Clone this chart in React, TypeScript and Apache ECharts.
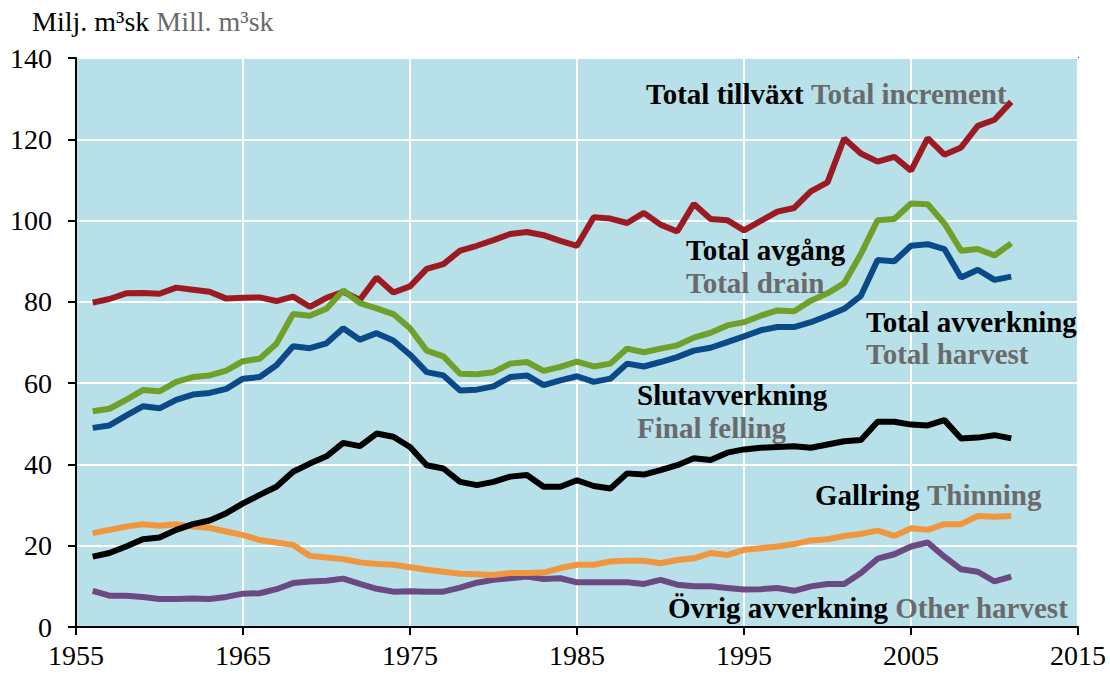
import React, { useEffect, useRef } from "react";
import * as echarts from "echarts";

const years: number[] = [];
for (let y = 1956; y <= 2011; y++) years.push(y);

const totalTillvaxt = [
  79.8, 80.7, 82.1, 82.2, 82.0, 83.5, 83.0, 82.5, 80.8, 81.0,
  81.1, 80.2, 81.3, 78.8, 81.0, 82.5, 80.5, 86.0, 82.3, 83.8,
  88.1, 89.3, 92.6, 93.8, 95.2, 96.7, 97.2, 96.4, 95.0, 93.8,
  100.8, 100.5, 99.4, 101.9, 99.0, 97.3, 104.1, 100.4, 100.1, 97.6,
  99.9, 102.2, 103.1, 107.2, 109.4, 120.2, 116.5, 114.5, 115.7, 112.3,
  120.3, 116.2, 118.0, 123.3, 124.8, 129.2,
];

const totalAvgang = [
  53.1, 53.7, 55.9, 58.3, 58.0, 60.3, 61.5, 61.9, 63.1, 65.4,
  66.0, 69.7, 77.0, 76.6, 78.3, 82.8, 79.7, 78.4, 77.0, 73.5,
  68.0, 66.6, 62.3, 62.2, 62.7, 64.8, 65.2, 63.0, 64.0, 65.3,
  64.1, 64.8, 68.5, 67.6, 68.5, 69.3, 71.2, 72.4, 74.2, 75.0,
  76.6, 77.9, 77.7, 80.3, 82.1, 84.6, 91.8, 100.1, 100.4, 104.2,
  104.0, 99.3, 92.6, 93.0, 91.4, 94.4,
];

const totalAvverkning = [
  49.0, 49.6, 52.0, 54.3, 53.8, 55.9, 57.2, 57.6, 58.6, 61.1,
  61.5, 64.4, 69.1, 68.6, 69.8, 73.5, 70.7, 72.3, 70.5, 67.0,
  62.7, 61.9, 58.2, 58.4, 59.2, 61.5, 61.9, 59.5, 60.7, 61.7,
  60.3, 61.1, 64.8, 64.1, 65.2, 66.4, 68.0, 68.7, 70.1, 71.5,
  73.0, 73.8, 73.8, 75.0, 76.6, 78.3, 81.5, 90.3, 90.0, 93.8,
  94.2, 93.0, 86.0, 87.9, 85.4, 86.2,
];

const slutavverkning = [
  17.3, 18.2, 19.8, 21.6, 22.0, 23.9, 25.3, 26.2, 28.0, 30.4,
  32.5, 34.5, 38.2, 40.2, 42.0, 45.3, 44.5, 47.6, 46.8, 44.3,
  39.8, 39.0, 35.7, 34.9, 35.7, 37.0, 37.4, 34.5, 34.5, 36.1,
  34.7, 34.1, 37.8, 37.5, 38.6, 39.8, 41.5, 41.1, 42.9, 43.7,
  44.1, 44.3, 44.5, 44.1, 44.9, 45.7, 46.0, 50.5, 50.5, 49.8,
  49.6, 50.9, 46.4, 46.6, 47.2, 46.4,
];

const gallring = [
  23.1, 23.9, 24.7, 25.3, 24.9, 25.3, 24.7, 24.4, 23.5, 22.6,
  21.4, 20.8, 20.2, 17.5, 17.1, 16.7, 15.9, 15.5, 15.3, 14.7,
  14.1, 13.6, 13.1, 13.0, 12.8, 13.3, 13.3, 13.4, 14.5, 15.3,
  15.3, 16.1, 16.3, 16.3, 15.7, 16.5, 16.9, 18.2, 17.7, 19.0,
  19.4, 19.8, 20.4, 21.3, 21.6, 22.4, 22.9, 23.7, 22.4, 24.3,
  23.9, 25.3, 25.3, 27.3, 27.1, 27.3,
];

const ovrigAvverkning = [
  8.9, 7.7, 7.7, 7.4, 6.9, 6.9, 7.0, 6.9, 7.4, 8.2,
  8.3, 9.3, 10.8, 11.2, 11.4, 11.9, 10.6, 9.4, 8.7, 8.8,
  8.7, 8.7, 9.7, 10.9, 11.6, 12.0, 12.4, 11.8, 12.0, 11.0,
  11.0, 11.0, 11.0, 10.6, 11.6, 10.4, 10.0, 10.0, 9.6, 9.2,
  9.3, 9.6, 8.9, 10.0, 10.6, 10.6, 13.3, 16.8, 17.9, 19.8,
  20.8, 17.3, 14.2, 13.6, 11.2, 12.4,
];

const yTicks = [0, 20, 40, 60, 80, 100, 120, 140];
const xTicks = [1955, 1965, 1975, 1985, 1995, 2005, 2015];

const FONT = "Liberation Serif";
const GREY = "#6a6a6a";

function pairs(vals: number[]) {
  return years.map((y, i) => [y, vals[i]]);
}

function label(x: number, y: number, black: string, grey: string) {
  const parts: string[] = [];
  if (black) parts.push("{a|" + black + "}");
  if (grey) parts.push("{b|" + grey + "}");
  return {
    type: "text",
    x,
    y,
    style: {
      text: parts.join(" "),
      textVerticalAlign: "middle",
      fontFamily: FONT,
      fontWeight: "bold",
      fontSize: 29,
      fill: "#000",
      rich: {
        a: { fontFamily: FONT, fontWeight: "bold", fontSize: 29, fill: "#000" },
        b: { fontFamily: FONT, fontWeight: "bold", fontSize: 29, fill: GREY },
      },
    },
    z: 100,
  };
}

export default function App() {
  const ref = useRef<HTMLDivElement>(null);
  useEffect(() => {
    if (!ref.current) return;
    const chart = echarts.init(ref.current, undefined, { renderer: "svg" });
    const lineSeries = (name: string, vals: number[], color: string, z: number) => ({
      name,
      type: "line",
      data: pairs(vals),
      showSymbol: false,
      symbol: "none",
      lineStyle: { color, width: 6 },
      z,
    });
    chart.setOption({
      animation: false,
      backgroundColor: "#ffffff",
      textStyle: { fontFamily: FONT },
      grid: {
        left: 76,
        right: 32,
        top: 58,
        bottom: 48,
        show: true,
        backgroundColor: "#b8e0e9",
        borderColor: "#3a3a3a",
        borderWidth: 2,
      },
      xAxis: {
        type: "value",
        min: xTicks[0],
        max: xTicks[xTicks.length - 1],
        interval: 10,
        axisLine: { show: true, lineStyle: { color: "#000", width: 2 } },
        axisTick: { show: true, inside: false, length: 8, lineStyle: { color: "#000", width: 2 } },
        axisLabel: {
          color: "#000",
          fontFamily: FONT,
          fontSize: 28,
          margin: 14,
          formatter: (v: number) => String(v),
        },
        splitLine: { show: true, lineStyle: { color: "#ffffff", width: 2 } },
      },
      yAxis: {
        type: "value",
        min: yTicks[0],
        max: yTicks[yTicks.length - 1],
        interval: 20,
        axisLine: { show: true, lineStyle: { color: "#000", width: 2 } },
        axisTick: { show: true, inside: false, length: 8, lineStyle: { color: "#000", width: 2 } },
        axisLabel: {
          color: "#000",
          fontFamily: FONT,
          fontSize: 28,
          margin: 24,
          formatter: (v: number) => String(v),
        },
        splitLine: { show: true, lineStyle: { color: "#ffffff", width: 2 } },
      },
      graphic: [
        {
          type: "text",
          x: 32,
          y: 21,
          style: {
            text: "{a|Milj. m³sk} {b|Mill. m³sk}",
            textVerticalAlign: "middle",
            fontFamily: FONT,
            fontSize: 28,
            fill: "#000",
            rich: {
              a: { fontFamily: FONT, fontSize: 28, fill: "#000" },
              b: { fontFamily: FONT, fontSize: 28, fill: GREY },
            },
          },
        },
        label(646, 94, "Total tillväxt", "Total increment"),
        label(686, 250, "Total avgång", ""),
        label(686, 283, "", "Total drain"),
        label(866, 322, "Total avverkning", ""),
        label(866, 354, "", "Total harvest"),
        label(637, 395, "Slutavverkning", ""),
        label(637, 428, "", "Final felling"),
        label(815, 495, "Gallring", "Thinning"),
        label(668, 608, "Övrig avverkning", "Other harvest"),
      ],
      series: [
        lineSeries("Total tillväxt", totalTillvaxt, "#9e1a22", 2),
        lineSeries("Övrig avverkning", ovrigAvverkning, "#6b4a82", 3),
        lineSeries("Gallring", gallring, "#f0963e", 4),
        lineSeries("Slutavverkning", slutavverkning, "#000000", 5),
        lineSeries("Total avverkning", totalAvverkning, "#0a4a88", 6),
        lineSeries("Total avgång", totalAvgang, "#6fa02a", 7),
      ],
    });
    return () => chart.dispose();
  }, []);
  return (
    <div
      ref={ref}
      style={{ position: "fixed", left: 0, top: 0, width: 1110, height: 675 }}
    />
  );
}
